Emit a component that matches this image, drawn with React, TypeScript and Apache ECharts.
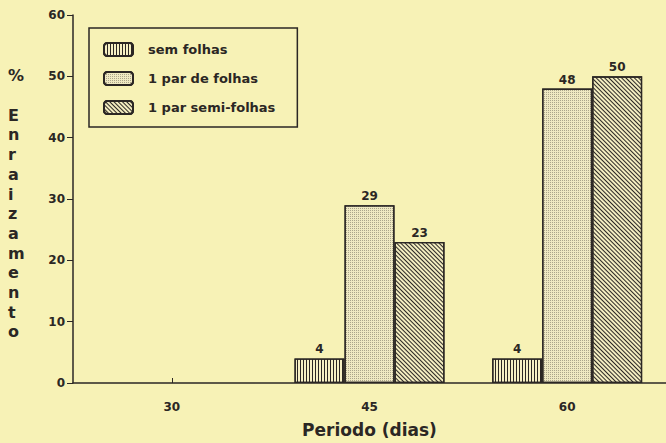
import React, { useEffect, useRef } from "react";
import * as echarts from "echarts";

const categories = ["30", "45", "60"];
const semFolhas = [null, 4, 4];
const umParFolhas = [null, 29, 48];
const umParSemiFolhas = [null, 23, 50];
const seriesNames = ["sem folhas", "1 par de folhas", "1 par semi-folhas"];
const yTicks = [0, 10, 20, 30, 40, 50, 60];
const yNameLetters = ["%", "", "E", "n", "r", "a", "i", "z", "a", "m", "e", "n", "t", "o"];

const BG = "#f7f2b6";
const INK = "#2b2724";
const FONT = "'DejaVu Sans', 'Liberation Sans', Arial, sans-serif";

export default function App() {
  const ref = useRef<HTMLDivElement>(null);
  useEffect(() => {
    if (!ref.current) return;
    const chart = echarts.init(ref.current, null, { renderer: "svg" });
    const labelCfg = {
      show: true,
      position: "top",
      distance: 3,
      color: INK,
      fontFamily: FONT,
      fontWeight: "bold",
      fontSize: 12,
    };
    const base = {
      type: "bar",
      barWidth: 50,
      barGap: "0%",
      label: labelCfg,
    };
    chart.setOption({
      animation: false,
      backgroundColor: BG,
      textStyle: { fontFamily: FONT },
      grid: { left: 73, right: -7, top: 15, bottom: 55, containLabel: false },
      legend: {
        orient: "vertical",
        left: 89,
        top: 28,
        padding: [14, 22, 12, 14],
        itemWidth: 29,
        itemHeight: 13,
        itemGap: 14,
        borderColor: INK,
        borderWidth: 1.5,
        borderRadius: 0,
        data: seriesNames,
        textStyle: {
          color: INK,
          fontFamily: FONT,
          fontWeight: "bold",
          fontSize: 13,
          padding: [0, 0, 0, 10],
        },
      },
      xAxis: {
        type: "category",
        data: categories,
        name: "Periodo (dias)",
        nameLocation: "middle",
        nameGap: 38,
        nameTextStyle: { color: INK, fontFamily: FONT, fontWeight: "bold", fontSize: 17 },
        axisLine: { lineStyle: { color: INK, width: 1.5 } },
        axisTick: { show: true, inside: true, length: 5, alignWithLabel: true, lineStyle: { color: INK } },
        axisLabel: { color: INK, fontFamily: FONT, fontWeight: "bold", fontSize: 12, margin: 18 },
      },
      yAxis: {
        type: "value",
        min: yTicks[0],
        max: yTicks[yTicks.length - 1],
        interval: 10,
        splitLine: { show: false },
        axisLine: { show: true, lineStyle: { color: INK, width: 1.5 } },
        axisTick: { show: true, length: 6, lineStyle: { color: INK } },
        axisLabel: { color: INK, fontFamily: FONT, fontWeight: "bold", fontSize: 12, margin: 8 },
      },
      graphic: [
        {
          type: "text",
          left: 8,
          top: 66,
          style: {
            text: yNameLetters.join("\n"),
            fill: INK,
            font: `bold 16px ${FONT}`,
            lineHeight: 19.7,
            align: "center",
            width: 16,
          },
        },
      ],
      series: [
        {
          ...base,
          name: seriesNames[0],
          data: semFolhas,
          itemStyle: {
            color: "#f6f0c4",
            borderColor: INK,
            borderWidth: 1.3,
            decal: {
              symbol: "rect",
              symbolSize: 1,
              color: "#2b2724",
              dashArrayX: [1, 2],
              dashArrayY: [4, 0],
              rotation: 0,
            },
          },
        },
        {
          ...base,
          name: seriesNames[1],
          data: umParFolhas,
          itemStyle: {
            color: "#efe9c2",
            borderColor: INK,
            borderWidth: 1.3,
            decal: {
              symbol: "rect",
              symbolSize: 1,
              color: "rgba(60,55,50,0.38)",
              dashArrayX: [1, 1],
              dashArrayY: [1, 1],
              rotation: 0,
            },
          },
        },
        {
          ...base,
          name: seriesNames[2],
          data: umParSemiFolhas,
          itemStyle: {
            color: "#f3edc0",
            borderColor: INK,
            borderWidth: 1.3,
            decal: {
              symbol: "rect",
              symbolSize: 1,
              color: "#2b2724",
              dashArrayX: [1, 2],
              dashArrayY: [4, 0],
              rotation: -Math.PI / 4,
            },
          },
        },
      ],
    });
    return () => chart.dispose();
  }, []);
  return (
    <div
      ref={ref}
      style={{ position: "fixed", left: 0, top: 0, width: 666, height: 443 }}
    />
  );
}
